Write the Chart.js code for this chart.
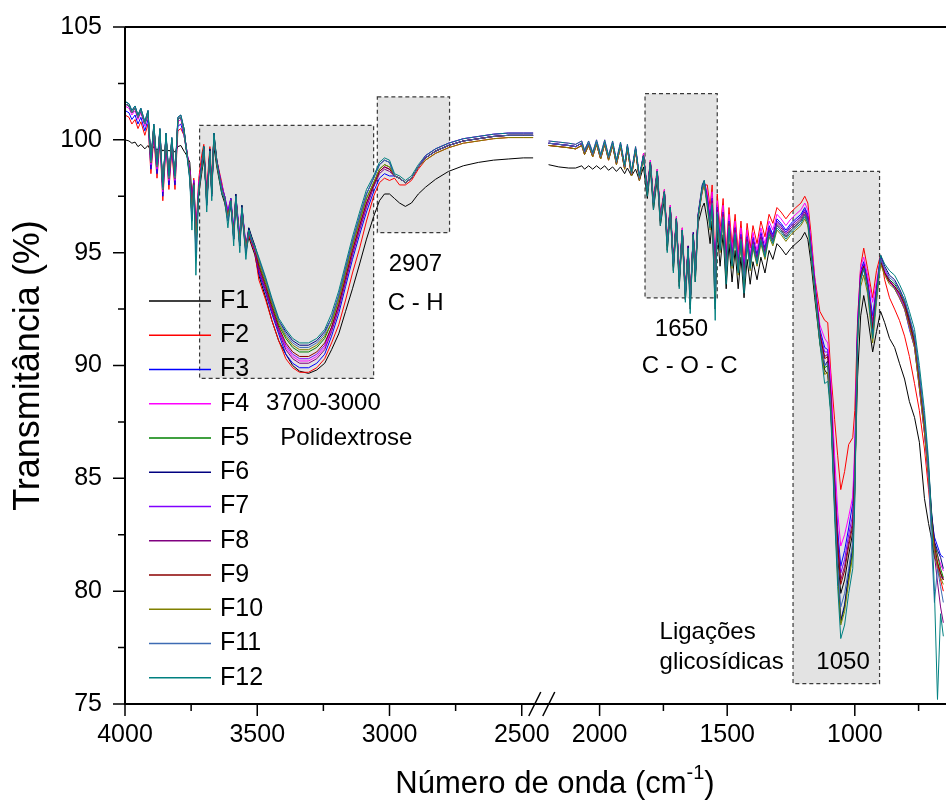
<!DOCTYPE html>
<html>
<head>
<meta charset="utf-8">
<title>FTIR - Polidextrose</title>
<script src="https://cdn.jsdelivr.net/npm/chart.js@4.4.1/dist/chart.umd.min.js"></script>
<style>
  html, body { margin: 0; padding: 0; background: #fff; }
  canvas { display: block; }
</style>
</head>
<body>
<canvas id="ftirChart" width="946" height="812"></canvas>
<script>
// número de onda (cm-1); 2420 é só a linha da quebra do eixo (valores null)
var wavenumber = [
  4000,3985,3974,3962,3951,3940,3925,3913,3902,3891,3879,3868,3857,3845,3834,3823,3811,3800,3789,
  3777,3766,3755,3747,3740,3732,3721,3709,3702,3691,3679,3672,3664,3653,3634,3623,3611,3600,3589,3581,3566,3558,3543,3532,3521,3509,
  3494,3468,3445,3419,3392,3366,3340,3306,3275,3245,3219,3192,3166,3140,3113,3087,
  3060,3038,3019,3000,2981,2962,2940,2917,2891,2864,2826,2777,2721,2664,2607,2551,2494,2457,
  2420,
  2200,2160,2121,2094,2070,2059,2043,2027,2012,1996,1980,1965,1949,1934,1918,1902,1891,1875,1859,1844,
  1828,1813,1801,1789,1774,1762,1746,1735,1723,1711,1699,1688,1676,1664,1653,1645,1633,1625,1614,1598,1590,
  1578,1567,1559,1547,1539,1528,1516,1504,1493,1481,1469,1457,1446,1434,1422,1410,1399,1383,1368,1352,1336,1321,1305,1289,1270,1250,1231,1211,1196,1184,1172,
  1157,1137,1118,1106,1094,1079,1067,1055,1040,1024,1008,1000,
  989,977,965,950,930,915,899,883,864,844,825,805,786,766,747,727,711,699,688,676,664,653
];

// transmitância (%)
var F1 = [
  100.0,99.95,99.85,99.9,99.7,99.8,99.6,99.75,99.5,99.7,99.55,99.7,99.5,99.65,99.5,99.6,99.45,99.7,99.75,
  99.5,99.3,99.0,97.5,98.2,96.0,97.6,98.6,99.2,97.4,99.1,97.7,99.7,98.8,97.6,97.2,96.4,97.1,95.6,97.2,95.3,96.7,95.0,95.7,95.3,94.9,
  94.0,93.0,92.0,91.1,90.5,90.0,89.75,89.65,89.8,90.1,90.7,91.4,92.4,93.4,94.5,95.6,
  96.6,97.3,97.6,97.6,97.4,97.2,97.05,97.2,97.6,97.9,98.25,98.6,98.85,99.0,99.1,99.15,99.2,99.2,
  null,
  98.9,98.8,98.75,98.75,98.85,98.7,98.85,98.7,98.85,98.7,98.85,98.65,98.8,98.6,98.8,98.5,98.75,98.4,98.7,98.2,
  98.8,97.4,98.7,96.9,98.3,96.2,97.4,95.1,96.7,94.2,96.2,93.5,95.7,92.9,94.9,92.5,95.5,93.7,96.3,97.0,97.2,
  96.4,95.4,96.4,92.5,96.0,94.4,95.8,93.4,95.4,93.7,95.1,93.4,94.8,93.0,94.7,93.6,94.6,93.8,94.8,94.1,95.1,94.7,95.4,95.2,94.9,95.2,95.4,95.6,95.9,95.6,94.6,
  93.0,91.0,89.8,89.6,88.0,84.0,81.5,79.9,80.5,81.6,82.6,85.0,
  89.5,92.2,93.1,92.2,90.6,91.5,92.4,91.9,91.2,90.8,90.1,89.4,88.4,87.7,86.6,84.1,83.0,82.3,81.5,81.2,80.8,80.5
];
var F2 = [
  101.1,101.0,100.7,100.9,100.5,100.8,100.2,100.7,98.5,100.1,98.3,99.9,97.3,99.7,97.8,99.5,97.8,100.4,100.5,
  100.2,99.4,98.6,97.1,98.3,96.0,98.3,99.4,99.8,97.8,99.7,98.1,100.1,99.1,98.1,97.4,96.8,97.2,95.9,97.3,95.5,96.8,95.1,95.8,95.4,95.0,
  93.8,92.9,92.0,91.1,90.3,89.9,89.7,89.7,89.9,90.3,91.0,91.8,92.9,94.1,95.2,96.4,
  97.5,98.1,98.3,98.2,98.3,98.0,98.0,98.2,98.7,99.1,99.4,99.65,99.85,99.95,100.05,100.1,100.1,100.1,
  null,
  99.75,99.7,99.65,99.6,99.75,99.35,99.75,99.25,99.8,99.15,99.8,99.1,99.75,98.9,99.7,98.7,99.6,98.4,99.5,98.2,
  99.4,97.8,99.1,97.4,98.7,96.7,97.8,95.6,97.1,94.7,96.6,94.0,96.1,93.4,95.3,93.0,95.8,94.2,96.6,97.7,98.0,
  98.0,97.0,98.0,94.1,97.6,96.0,97.4,95.0,97.0,95.3,96.7,95.0,96.4,94.6,96.3,95.2,96.2,95.4,96.4,95.7,96.7,96.3,97.0,96.8,96.5,96.8,97.0,97.2,97.5,97.2,95.9,
  93.9,92.4,92.0,91.9,89.7,87.6,86.0,84.5,85.3,86.5,86.8,88.0,
  92.0,94.4,95.2,94.3,93.0,94.2,94.9,93.8,93.0,92.5,92.0,91.3,90.4,89.2,88.0,86.3,84.5,83.0,82.0,81.2,80.5,80.0
];
var F3 = [
  101.3,101.2,100.9,101.1,100.7,101.0,100.4,100.9,98.7,100.3,98.5,100.1,97.5,99.9,98.0,99.7,98.0,100.6,100.7,
  100.2,99.4,98.5,96.8,98.0,95.5,97.9,98.9,99.5,97.3,99.4,97.7,100.1,99.0,97.9,97.3,96.6,97.2,95.8,97.4,95.5,96.9,95.2,95.9,95.5,95.1,
  94.1,93.2,92.3,91.4,90.5,90.1,89.9,89.9,90.1,90.5,91.3,92.3,93.5,94.7,95.8,96.8,
  97.7,98.3,98.5,98.4,98.4,98.3,98.1,98.3,98.8,99.2,99.5,99.75,99.95,100.05,100.15,100.2,100.2,100.2,
  null,
  99.85,99.8,99.75,99.7,99.85,99.45,99.85,99.35,99.9,99.25,99.9,99.2,99.85,99.0,99.8,98.8,99.7,98.5,99.6,98.3,
  99.3,97.7,99.0,97.2,98.6,96.5,97.7,95.4,97.0,94.5,96.5,93.8,96.0,93.2,95.2,92.8,95.8,94.0,96.6,97.8,98.1,
  97.5,96.5,97.5,93.6,97.1,95.5,96.9,94.5,96.5,94.8,96.2,94.5,95.9,94.1,95.8,94.7,95.7,94.9,95.9,95.2,96.2,95.8,96.5,96.3,96.0,96.3,96.5,96.7,97.0,96.7,95.4,
  93.8,91.6,90.8,90.7,89.0,85.2,82.7,81.1,81.8,82.8,83.9,86.0,
  91.8,94.2,94.6,93.8,92.2,93.5,94.8,94.2,93.8,93.4,93.0,92.5,91.6,90.8,89.0,87.0,85.0,83.3,82.4,82.0,81.6,81.5
];
var F4 = [
  101.5,101.4,101.1,101.3,100.9,101.2,100.6,101.1,98.9,100.5,98.7,100.3,97.7,100.1,98.2,99.9,98.2,100.8,100.9,
  100.3,99.5,98.6,96.9,98.2,95.6,98.1,99.1,99.6,97.5,99.5,97.9,100.1,99.1,98.0,97.5,96.8,97.4,96.0,97.5,95.7,97.0,95.3,96.0,95.5,95.1,
  94.3,93.4,92.5,91.6,90.8,90.4,90.2,90.2,90.4,90.8,91.6,92.6,93.8,95.0,96.1,97.1,
  98.0,98.6,98.8,98.7,98.4,98.3,98.1,98.3,98.8,99.3,99.6,99.85,100.05,100.15,100.25,100.3,100.3,100.3,
  null,
  99.95,99.9,99.85,99.8,99.95,99.55,99.95,99.45,100.0,99.35,100.0,99.3,99.95,99.1,99.9,98.9,99.8,98.6,99.7,98.4,
  99.4,97.8,99.1,97.3,98.7,96.6,97.8,95.5,97.1,94.6,96.6,93.9,96.1,93.3,95.3,92.9,95.9,94.1,96.7,97.9,98.1,
  97.7,96.7,97.7,93.8,97.3,95.7,97.1,94.7,96.7,95.0,96.4,94.7,96.1,94.3,96.0,94.9,95.9,95.1,96.1,95.4,96.4,96.0,96.7,96.5,96.2,96.5,96.7,96.9,97.2,96.9,95.6,
  93.9,91.8,91.2,91.0,89.5,86.0,83.5,82.0,82.5,83.3,84.2,86.5,
  92.0,94.4,94.8,94.0,92.8,93.7,94.8,94.2,93.8,93.5,93.0,92.5,91.7,90.8,89.0,87.0,85.0,83.0,82.2,81.6,81.2,80.9
];
var F5 = [
  101.6,101.5,101.2,101.4,101.0,101.3,100.7,101.2,99.0,100.6,98.8,100.4,97.8,100.2,98.3,100.0,98.3,100.9,101.0,
  100.5,99.4,98.4,96.6,98.1,95.2,97.9,99.0,99.7,97.2,99.6,97.6,100.3,99.1,97.9,97.5,96.5,97.4,95.7,97.6,95.4,97.1,95.1,96.1,95.7,95.3,
  94.5,93.6,92.7,91.8,91.2,90.8,90.6,90.6,90.8,91.2,91.9,92.9,94.1,95.3,96.4,97.4,
  98.1,98.7,98.9,98.8,98.4,98.3,98.1,98.3,98.8,99.2,99.5,99.75,99.95,100.05,100.15,100.2,100.2,100.2,
  null,
  99.85,99.8,99.75,99.7,99.85,99.45,99.85,99.35,99.9,99.25,99.9,99.2,99.85,99.0,99.8,98.8,99.7,98.5,99.6,98.3,
  99.3,97.7,99.0,97.2,98.6,96.5,97.7,95.4,97.0,94.5,96.5,93.8,96.0,93.2,95.2,92.8,95.8,94.0,96.6,97.8,98.1,
  97.2,96.2,97.2,93.3,96.8,95.2,96.6,94.2,96.2,94.5,95.9,94.2,95.6,93.8,95.5,94.4,95.4,94.6,95.6,94.9,95.9,95.5,96.2,96.0,95.7,96.0,96.2,96.4,96.7,96.4,95.1,
  93.5,91.2,89.9,90.0,88.2,83.8,80.8,78.6,79.3,80.6,81.8,84.5,
  91.3,93.8,94.3,93.5,91.4,93.0,94.6,94.1,93.8,93.6,93.3,92.8,92.0,91.1,89.4,87.5,85.4,83.4,82.1,81.6,81.0,80.6
];
var F6 = [
  101.7,101.6,101.3,101.5,101.1,101.4,100.8,101.3,99.1,100.7,98.9,100.5,97.9,100.3,98.4,100.1,98.4,101.0,101.1,
  100.5,99.4,98.3,96.5,98.0,95.0,97.8,99.0,99.7,97.1,99.6,97.5,100.3,99.1,97.8,97.5,96.5,97.4,95.6,97.6,95.3,97.1,95.1,96.1,95.7,95.3,
  94.7,93.8,92.9,92.0,91.5,91.1,90.9,90.9,91.1,91.5,92.1,93.1,94.3,95.5,96.6,97.6,
  98.3,98.9,99.1,99.0,98.4,98.3,98.1,98.3,98.8,99.2,99.5,99.75,99.95,100.05,100.15,100.2,100.2,100.2,
  null,
  99.85,99.8,99.75,99.7,99.85,99.45,99.85,99.35,99.9,99.25,99.9,99.2,99.85,99.0,99.8,98.8,99.7,98.5,99.6,98.3,
  99.3,97.6,99.0,97.1,98.6,96.4,97.7,95.3,97.0,94.4,96.5,93.7,96.0,93.1,95.3,92.7,95.9,94.0,96.7,98.0,98.2,
  97.4,96.4,97.4,93.5,97.0,95.4,96.8,94.4,96.4,94.7,96.1,94.4,95.8,94.0,95.7,94.6,95.6,94.8,95.8,95.1,96.1,95.7,96.4,96.2,95.9,96.2,96.4,96.6,96.9,96.6,95.3,
  93.6,91.3,90.0,90.2,88.3,83.9,80.9,78.7,79.4,80.8,82.0,84.6,
  91.4,93.9,94.5,93.6,91.5,93.3,94.9,94.4,94.0,93.8,93.4,92.9,92.1,91.3,89.6,87.6,85.5,83.5,82.2,81.8,81.5,81.0
];
var F7 = [
  101.6,101.5,101.2,101.4,101.0,101.3,100.7,101.2,99.0,100.6,98.8,100.4,97.8,100.2,98.3,100.0,98.3,100.9,101.0,
  100.3,99.5,98.6,97.0,98.2,95.8,98.0,98.9,99.4,97.6,99.4,98.0,100.0,99.0,98.0,97.5,96.9,97.4,96.1,97.5,95.8,97.0,95.4,96.0,95.5,95.1,
  94.3,93.4,92.5,91.6,90.9,90.5,90.3,90.3,90.5,90.9,91.7,92.7,93.9,95.1,96.2,97.2,
  98.0,98.6,98.8,98.7,98.4,98.3,98.1,98.3,98.8,99.3,99.6,99.85,100.05,100.15,100.25,100.3,100.3,100.3,
  null,
  99.85,99.8,99.75,99.7,99.85,99.45,99.85,99.35,99.9,99.25,99.9,99.2,99.85,99.0,99.8,98.8,99.7,98.5,99.6,98.3,
  99.3,97.7,99.0,97.2,98.6,96.5,97.7,95.4,97.0,94.5,96.5,93.8,96.0,93.2,95.2,92.8,95.8,94.0,96.6,97.8,98.1,
  97.4,96.4,97.4,93.5,97.0,95.4,96.8,94.4,96.4,94.7,96.1,94.4,95.8,94.0,95.7,94.6,95.6,94.8,95.8,95.1,96.1,95.7,96.4,96.2,95.9,96.2,96.4,96.6,96.9,96.6,95.3,
  93.7,91.5,90.6,90.6,88.8,85.0,82.4,80.8,81.4,82.5,83.4,85.8,
  91.7,94.1,94.5,93.7,92.0,93.4,94.7,94.1,93.7,93.5,93.1,92.6,91.8,90.9,89.1,87.1,85.1,83.0,82.0,81.0,80.6,80.6
];
var F8 = [
  101.6,101.5,101.2,101.4,101.0,101.3,100.7,101.2,99.0,100.6,98.8,100.4,97.8,100.2,98.3,100.0,98.3,100.9,101.0,
  100.4,99.5,98.5,96.8,98.1,95.5,97.9,98.9,99.5,97.4,99.4,97.8,100.1,99.0,97.9,97.4,96.7,97.3,95.9,97.4,95.6,96.9,95.3,96.0,95.5,95.1,
  94.2,93.3,92.4,91.5,90.7,90.3,90.1,90.1,90.3,90.7,91.5,92.5,93.7,94.9,96.0,97.0,
  97.9,98.5,98.7,98.6,98.4,98.3,98.1,98.3,98.8,99.2,99.5,99.75,99.95,100.05,100.15,100.2,100.2,100.2,
  null,
  99.85,99.8,99.75,99.7,99.85,99.45,99.85,99.35,99.9,99.25,99.9,99.2,99.85,99.0,99.8,98.8,99.7,98.5,99.6,98.3,
  99.3,97.7,99.0,97.2,98.6,96.5,97.7,95.4,97.0,94.5,96.5,93.8,96.0,93.2,95.2,92.8,95.8,94.0,96.6,97.8,98.1,
  97.3,96.3,97.3,93.4,96.9,95.3,96.7,94.3,96.3,94.6,96.0,94.3,95.7,93.9,95.6,94.5,95.5,94.7,95.7,95.0,96.0,95.6,96.3,96.1,95.8,96.1,96.3,96.5,96.8,96.5,95.2,
  93.6,91.4,90.4,90.5,88.7,84.8,82.2,80.5,81.1,82.2,83.1,85.5,
  91.6,94.0,94.4,93.6,91.8,93.3,94.7,94.1,93.7,93.5,93.2,92.7,91.9,91.0,89.2,87.2,85.2,83.1,81.6,80.4,79.3,78.6
];
var F9 = [
  101.6,101.5,101.2,101.4,101.0,101.3,100.7,101.2,99.0,100.6,98.8,100.4,97.8,100.2,98.3,100.0,98.3,100.9,101.0,
  100.4,99.4,98.4,96.6,98.0,95.2,97.8,98.9,99.6,97.2,99.5,97.6,100.2,99.0,97.8,97.4,96.5,97.3,95.7,97.5,95.4,97.0,95.1,96.0,95.6,95.2,
  94.4,93.5,92.6,91.7,91.0,90.6,90.4,90.4,90.6,91.0,91.7,92.7,93.9,95.1,96.2,97.2,
  98.0,98.6,98.8,98.7,98.4,98.3,98.1,98.3,98.8,99.2,99.5,99.75,99.95,100.05,100.15,100.2,100.2,100.2,
  null,
  99.75,99.7,99.65,99.6,99.75,99.35,99.75,99.25,99.8,99.15,99.8,99.1,99.75,98.9,99.7,98.7,99.6,98.4,99.5,98.2,
  99.3,97.7,99.0,97.2,98.6,96.5,97.7,95.4,97.0,94.5,96.5,93.8,96.0,93.2,95.2,92.8,95.8,94.0,96.6,97.8,98.1,
  97.2,96.2,97.2,93.3,96.8,95.2,96.6,94.2,96.2,94.5,95.9,94.2,95.6,93.8,95.5,94.4,95.4,94.6,95.6,94.9,95.9,95.5,96.2,96.0,95.7,96.0,96.2,96.4,96.7,96.4,95.1,
  93.6,91.4,90.3,90.4,88.6,84.6,82.0,80.3,80.9,82.0,82.9,85.3,
  91.5,94.0,94.4,93.6,91.6,93.2,94.6,94.1,93.7,93.5,93.2,92.7,91.9,91.0,89.2,87.3,85.2,83.2,82.0,81.3,80.8,80.5
];
var F10 = [
  101.6,101.5,101.2,101.4,101.0,101.3,100.7,101.2,99.0,100.6,98.8,100.4,97.8,100.2,98.3,100.0,98.3,100.9,101.0,
  100.3,99.4,98.4,96.7,98.0,95.4,97.8,98.8,99.5,97.3,99.4,97.7,100.1,98.9,97.8,97.3,96.6,97.3,95.8,97.4,95.5,96.9,95.2,95.9,95.6,95.2,
  94.6,93.7,92.8,91.9,91.3,90.9,90.7,90.7,90.9,91.3,91.9,92.9,94.1,95.3,96.4,97.4,
  98.1,98.7,98.9,98.8,98.4,98.3,98.1,98.3,98.8,99.1,99.4,99.65,99.85,99.95,100.05,100.1,100.1,100.1,
  null,
  99.75,99.7,99.65,99.6,99.75,99.35,99.75,99.25,99.8,99.15,99.8,99.1,99.75,98.9,99.7,98.7,99.6,98.4,99.5,98.2,
  99.2,97.6,98.9,97.1,98.5,96.4,97.6,95.3,96.9,94.4,96.4,93.7,95.9,93.1,95.1,92.7,95.7,93.9,96.5,97.7,98.0,
  97.0,96.0,97.0,93.1,96.6,95.0,96.4,94.0,96.0,94.3,95.7,94.0,95.4,93.6,95.3,94.2,95.2,94.4,95.4,94.7,95.7,95.3,96.0,95.8,95.5,95.8,96.0,96.2,96.5,96.2,94.9,
  93.3,91.0,89.6,89.7,88.0,83.6,80.6,78.5,79.1,80.4,81.6,84.3,
  91.0,93.5,94.0,93.2,91.0,92.8,94.5,94.0,93.6,93.4,93.0,92.5,91.7,90.8,89.0,87.0,85.0,83.0,81.8,81.0,80.6,80.3
];
var F11 = [
  101.6,101.5,101.2,101.4,101.0,101.3,100.7,101.2,99.0,100.6,98.8,100.4,97.8,100.2,98.3,100.0,98.3,100.9,101.0,
  100.4,99.4,98.3,96.4,98.0,94.8,97.8,98.9,99.6,97.1,99.5,97.5,100.2,99.0,97.8,97.4,96.4,97.3,95.6,97.5,95.3,97.0,95.0,96.0,95.6,95.2,
  94.7,93.8,92.9,92.0,91.4,91.0,90.8,90.8,91.0,91.4,92.1,93.1,94.3,95.5,96.6,97.6,
  98.3,98.9,99.1,99.0,98.4,98.3,98.1,98.3,98.8,99.2,99.5,99.75,99.95,100.05,100.15,100.2,100.2,100.2,
  null,
  99.85,99.8,99.75,99.7,99.85,99.45,99.85,99.35,99.9,99.25,99.9,99.2,99.85,99.0,99.8,98.8,99.7,98.5,99.6,98.3,
  99.3,97.7,99.0,97.2,98.6,96.5,97.7,95.4,97.0,94.5,96.5,93.8,96.0,93.2,95.2,92.8,95.8,94.0,96.6,97.8,98.1,
  97.2,96.2,97.2,93.3,96.8,95.2,96.6,94.2,96.2,94.5,95.9,94.2,95.6,93.8,95.5,94.4,95.4,94.6,95.6,94.9,95.9,95.5,96.2,96.0,95.7,96.0,96.2,96.4,96.7,96.4,95.1,
  93.5,91.2,90.0,90.1,88.3,84.0,81.2,79.3,79.9,81.0,82.2,84.8,
  91.3,93.8,94.3,93.5,91.3,93.0,94.7,94.3,93.9,93.7,93.3,92.9,92.2,91.3,89.6,87.6,85.3,82.0,79.5,81.0,80.2,79.5
];
var F12 = [
  101.7,101.6,101.3,101.5,101.1,101.4,100.8,101.3,99.1,100.7,98.9,100.5,97.9,100.3,98.4,100.1,98.4,101.0,101.1,
  100.5,99.3,98.2,96.0,98.0,94.0,97.7,98.9,99.7,96.8,99.5,97.3,100.3,99.0,97.6,97.4,96.1,97.3,95.3,97.5,95.0,97.0,94.7,96.0,95.5,95.3,
  94.8,93.9,93.0,92.1,91.6,91.2,91.0,91.0,91.2,91.6,92.3,93.3,94.5,95.7,96.8,97.8,
  98.4,99.0,99.2,99.1,98.5,98.4,98.2,98.4,98.9,99.3,99.6,99.85,100.05,100.15,100.25,100.3,100.3,100.3,
  null,
  99.95,99.9,99.85,99.8,99.95,99.55,99.95,99.45,100.0,99.35,100.0,99.3,99.95,99.1,99.9,98.9,99.8,98.6,99.7,98.4,
  99.3,97.5,99.0,96.9,98.6,96.2,97.7,95.0,97.0,94.1,96.5,93.4,96.0,92.8,95.2,92.3,95.8,93.7,96.6,97.9,98.2,
  97.1,96.1,97.1,92.0,96.7,95.1,96.5,93.6,96.1,94.4,95.8,94.1,95.5,93.2,95.4,94.3,95.3,94.5,95.5,94.8,95.8,95.4,96.1,95.9,95.6,95.9,96.1,96.3,96.6,96.3,95.0,
  93.4,91.0,89.2,89.3,87.8,83.3,80.2,77.9,78.5,79.9,81.0,84.0,
  91.2,93.8,94.3,93.4,91.2,93.1,94.9,94.5,94.2,94.0,93.6,93.1,92.4,91.6,90.0,88.0,85.8,83.2,80.0,75.2,79.0,78.0
];

var seriesNames = ['F1', 'F2', 'F3', 'F4', 'F5', 'F6', 'F7', 'F8', 'F9', 'F10', 'F11', 'F12'];
var seriesValues = [F1, F2, F3, F4, F5, F6, F7, F8, F9, F10, F11, F12];
var seriesColors = ['#000000', '#ff0000', '#0000ff', '#ff00ff', '#008000', '#000080',
                    '#8000ff', '#800080', '#8b0000', '#808000', '#3d6bb3', '#008080'];

// ticks do eixo x (cm-1) e do eixo y (%)
var xTickValues = [4000, 3750, 3500, 3250, 3000, 2750, 2500, 2000, 1750, 1500, 1250, 1000, 750];
var xTickLabels = ['4000', '', '3500', '', '3000', '', '2500', '2000', '', '1500', '', '1000', ''];
var yTickValues = [75, 77.5, 80, 82.5, 85, 87.5, 90, 92.5, 95, 97.5, 100, 102.5, 105];

// regiões destacadas: [cm-1 inicial, cm-1 final, % topo, % base]
var bands = [
  [3718, 3060, 100.64, 89.43],
  [3046, 2773, 101.9, 95.89],
  [1822, 1539, 102.05, 93.0],
  [1242, 903, 98.6, 75.9]
];
// textos: [texto, cm-1, %, alinhamento]
var notes = [
  ['2907', 2902, 94.48, 'center'],
  ['C - H', 2901, 92.77, 'center'],
  ['3700-3000', 3250, 88.31, 'center'],
  ['Polidextrose', 3163, 86.75, 'center'],
  ['1650', 1679, 91.6, 'center'],
  ['C - O - C', 1647, 89.96, 'center'],
  ['Ligações', 1765, 78.19, 'left'],
  ['glicosídicas', 1765, 76.86, 'left'],
  ['1050', 1046, 76.86, 'center']
];

var FONT = "'Liberation Sans', Arial, sans-serif";
Chart.defaults.font.family = FONT;
Chart.defaults.color = '#000';

// eixo x quebrado: 4000-2450 à esquerda e 2200-644 à direita
function toAxis(w) {
  return w >= 2300 ? (4000 - w) * 0.2645 : 474.6 + (2000 - w) * 0.2552;
}

var datasets = seriesValues.map(function (values, i) {
  return {
    label: seriesNames[i],
    data: wavenumber.map(function (w, j) { return { x: toAxis(w), y: values[j] }; }),
    borderColor: seriesColors[i],
    borderWidth: 1,
    pointRadius: 0,
    tension: 0,
    spanGaps: false,
    order: seriesValues.length - i
  };
});

var decor = {
  id: 'decor',
  beforeDatasetsDraw: function (chart) {
    var ctx = chart.ctx, x = chart.scales.x, y = chart.scales.y;
    ctx.save();
    bands.forEach(function (b) {
      var x0 = x.getPixelForValue(toAxis(b[0])), x1 = x.getPixelForValue(toAxis(b[1]));
      var y0 = y.getPixelForValue(b[2]), y1 = y.getPixelForValue(b[3]);
      ctx.fillStyle = '#e3e3e3';
      ctx.fillRect(x0, y0, x1 - x0, y1 - y0);
      ctx.setLineDash([4, 3]);
      ctx.lineWidth = 1.2;
      ctx.strokeStyle = '#3a3a3a';
      ctx.strokeRect(x0, y0, x1 - x0, y1 - y0);
    });
    ctx.restore();
  },
  afterDatasetsDraw: function (chart) {
    var ctx = chart.ctx, x = chart.scales.x, y = chart.scales.y, a = chart.chartArea;
    ctx.save();

    // textos das bandas
    ctx.fillStyle = '#000';
    ctx.font = '24px ' + FONT;
    ctx.textBaseline = 'middle';
    notes.forEach(function (n) {
      ctx.textAlign = n[3];
      ctx.fillText(n[0], x.getPixelForValue(toAxis(n[1])), y.getPixelForValue(n[2]));
    });

    // legenda
    ctx.font = '25px ' + FONT;
    ctx.textAlign = 'left';
    chart.data.datasets.forEach(function (ds, i) {
      var ly = 301 + i * 34.25;
      ctx.strokeStyle = ds.borderColor;
      ctx.lineWidth = 1.5;
      ctx.beginPath();
      ctx.moveTo(149, ly);
      ctx.lineTo(211, ly);
      ctx.stroke();
      ctx.fillText(ds.label, 220, ly);
    });

    // eixos
    ctx.strokeStyle = '#000';
    ctx.lineWidth = 2;
    ctx.beginPath();
    ctx.moveTo(a.left, a.top); ctx.lineTo(a.right, a.top);
    ctx.moveTo(a.left, a.top); ctx.lineTo(a.left, a.bottom);
    ctx.lineTo(a.right, a.bottom);
    ctx.stroke();

    ctx.lineWidth = 1.5;
    ctx.beginPath();
    x.ticks.forEach(function (t, i) {
      var px = x.getPixelForValue(t.value);
      ctx.moveTo(px, a.bottom);
      ctx.lineTo(px, a.bottom + (xTickLabels[i] ? 12 : 7));
    });
    y.ticks.forEach(function (t) {
      var py = y.getPixelForValue(t.value);
      ctx.moveTo(a.left, py);
      ctx.lineTo(a.left - (t.value % 5 === 0 ? 12 : 7), py);
    });
    ctx.stroke();

    // marca da quebra //
    var cx = x.getPixelForValue((toAxis(2450) + toAxis(2200)) / 2);
    ctx.beginPath();
    [-7, 7].forEach(function (d) {
      ctx.moveTo(cx + d - 6, a.bottom + 12);
      ctx.lineTo(cx + d + 6, a.bottom - 12);
    });
    ctx.stroke();

    // títulos dos eixos
    ctx.textAlign = 'left';
    ctx.textBaseline = 'alphabetic';
    var main = 'Número de onda (cm', sup = '-1', tail = ')';
    ctx.font = '31px ' + FONT;
    var wMain = ctx.measureText(main).width, wTail = ctx.measureText(tail).width;
    ctx.font = '20px ' + FONT;
    var wSup = ctx.measureText(sup).width;
    var sx = 555 - (wMain + wSup + wTail) / 2, by = 793;
    ctx.font = '31px ' + FONT;
    ctx.fillText(main, sx, by);
    ctx.fillText(tail, sx + wMain + wSup, by);
    ctx.font = '20px ' + FONT;
    ctx.fillText(sup, sx + wMain, by - 14);

    ctx.translate(29, (a.top + a.bottom) / 2);
    ctx.rotate(-Math.PI / 2);
    ctx.textAlign = 'center';
    ctx.textBaseline = 'middle';
    ctx.font = '36px ' + FONT;
    ctx.fillText('Transmitância (%)', 0, 0);
    ctx.restore();
  }
};

var ctx = document.getElementById('ftirChart');
var ftirChart = new Chart(ctx, {
  type: 'line',
  data: { datasets: datasets },
  options: {
    responsive: false,
    animation: false,
    devicePixelRatio: 1,
    layout: { padding: { top: 27, left: 0, right: 0, bottom: 0 } },
    plugins: { legend: { display: false }, tooltip: { enabled: false } },
    scales: {
      x: {
        type: 'linear',
        min: 0,
        max: 821,
        grid: { display: false, drawTicks: false },
        border: { display: false },
        afterBuildTicks: function (scale) {
          scale.ticks = xTickValues.map(function (w) { return { value: toAxis(w) }; });
        },
        afterFit: function (scale) {
          scale.height = 108;
          scale.paddingLeft = 0;
          scale.paddingRight = 0;
        },
        ticks: {
          autoSkip: false,
          maxRotation: 0,
          padding: 16,
          font: { size: 25 },
          color: '#000',
          callback: function (v, i) { return xTickLabels[i]; }
        }
      },
      y: {
        min: 75,
        max: 105,
        grid: { display: false, drawTicks: false },
        border: { display: false },
        afterBuildTicks: function (scale) {
          scale.ticks = yTickValues.map(function (v) { return { value: v }; });
        },
        afterFit: function (scale) {
          scale.width = 125;
          scale.paddingTop = 0;
          scale.paddingBottom = 0;
        },
        ticks: {
          autoSkip: false,
          padding: 23,
          font: { size: 25 },
          color: '#000',
          callback: function (v) { return v % 5 === 0 ? String(v) : ''; }
        }
      }
    }
  },
  plugins: [decor]
});
</script>
</body>
</html>
